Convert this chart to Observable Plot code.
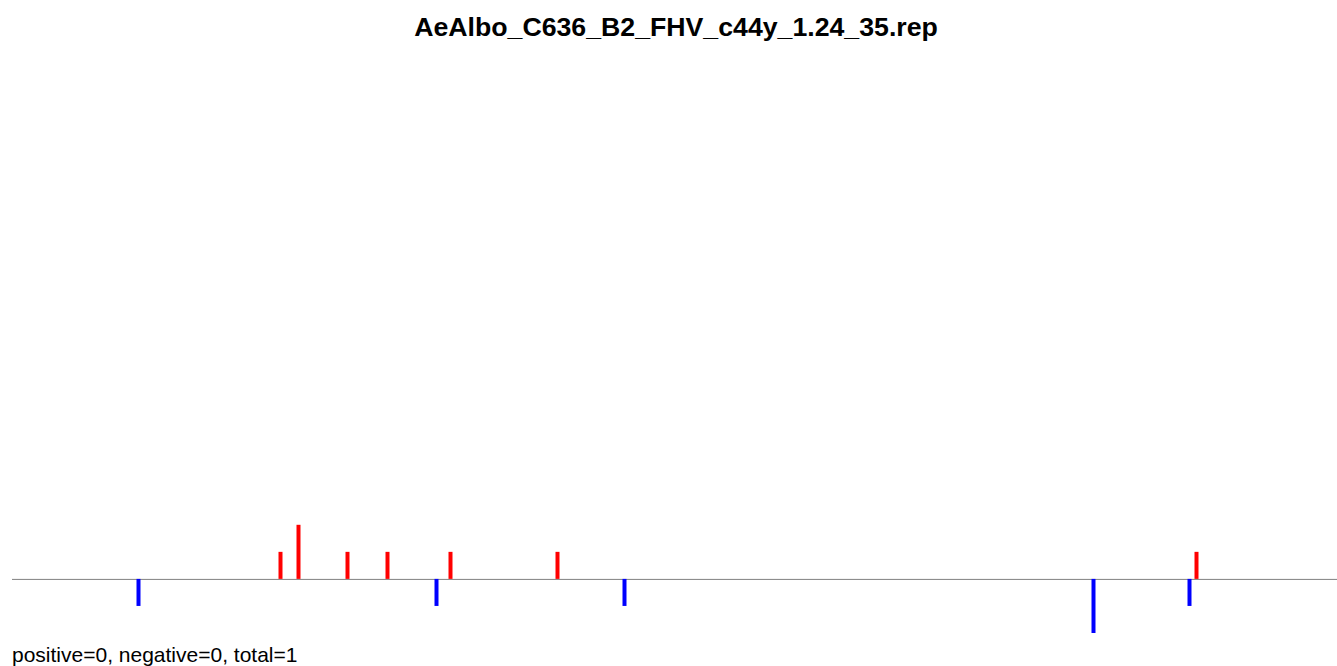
<!DOCTYPE html>
<html>
<head>
<meta charset="utf-8">
<script src="https://cdn.jsdelivr.net/npm/d3@7"></script>
<script src="https://cdn.jsdelivr.net/npm/@observablehq/plot@0.6"></script>
<style>
  html, body { margin: 0; padding: 0; background: #fff; overflow: hidden; width: 1337px; height: 666px; }
  #title { height: 60px; box-sizing: border-box; padding-top: 12px; padding-left: 15px; text-align: center; font-family: "Liberation Sans", Arial, sans-serif; font-weight: bold; font-size: 26.7px; line-height: normal; color: #000; white-space: nowrap; }
  #chart { height: 580px; }
  #chart svg { display: block; }
  #caption { height: 26px; box-sizing: border-box; padding-top: 3px; padding-left: 12px; font-family: "Liberation Sans", Arial, sans-serif; font-size: 21px; line-height: normal; color: #000; white-space: nowrap; }
</style>
</head>
<body>
<div id="title">AeAlbo_C636_B2_FHV_c44y_1.24_35.rep</div>
<div id="chart"></div>
<div id="caption">positive=0, negative=0, total=1</div>
<script>
// Positions along the sequence and read counts (positive strand up, negative strand down)
const posPositions = [268, 286, 335, 375, 438, 545, 1184];
const posCounts    = [1, 2, 1, 1, 1, 1, 1];
const negPositions = [126, 424, 612, 1081, 1177];
const negCounts    = [1, 1, 1, 2, 1];
const seqLength = 1325;

const pos = posPositions.map((p, i) => ({x: p, y: posCounts[i]}));
const neg = negPositions.map((p, i) => ({x: p, y: -negCounts[i]}));

const chart = Plot.plot({
  width: 1337,
  height: 580,
  marginTop: 32,
  marginBottom: 7,
  marginLeft: 12,
  marginRight: 0,
  x: {domain: [0, seqLength], axis: null},
  y: {domain: [-2, 18], axis: null},
  marks: [
    Plot.ruleY([0], {x1: 0, x2: seqLength, stroke: "#808080", strokeWidth: 1}),
    Plot.ruleX(pos, {x: "x", y1: 0, y2: "y", stroke: "red", strokeWidth: 4}),
    Plot.ruleX(neg, {x: "x", y1: 0, y2: "y", stroke: "blue", strokeWidth: 4})
  ]
});
document.getElementById("chart").appendChild(chart);
</script>
</body>
</html>
